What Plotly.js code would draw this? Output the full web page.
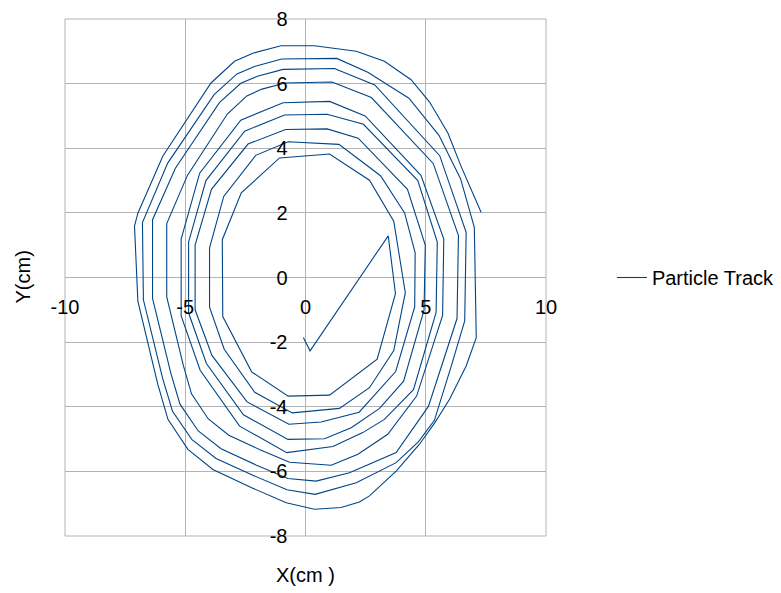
<!DOCTYPE html>
<html>
<head>
<meta charset="utf-8">
<script src="https://cdn.plot.ly/plotly-3.0.1.min.js"></script>
<style>html,body{margin:0;padding:0;background:#ffffff;}</style>
</head>
<body>
<div id="chart" style="width:781px;height:593px;"></div>
<script>
// Particle track (cm)
const turn1X = [-0.09, 0.19, 3.44, 3.74, 2.98, 1.00, -0.72, -2.24, -3.44, -3.46, -2.67, -1.08, 1.00];
const turn1Y = [-1.86, -2.27, 1.29, -0.50, -2.53, -3.64, -3.67, -2.92, -1.21, 1.17, 2.62, 3.70, 3.82];

const turn2X = [2.66, 3.67, 4.15, 3.67, 2.66, 1.41, -0.55, -2.11, -3.38, -3.99, -3.99, -3.40, -2.07, -0.72, 1.39];
const turn2Y = [3.01, 1.74, -0.47, -2.26, -3.41, -4.05, -4.19, -3.55, -2.22, -0.92, 0.92, 2.51, 3.78, 4.20, 4.12];

const turn3X = [3.12, 4.12, 4.56, 4.54, 3.75, 2.23, 0.65, -0.69, -2.43, -3.89, -4.59, -4.59, -3.91, -2.39, -0.83, 0.90];
const turn3Y = [3.15, 2.00, 0.76, -0.91, -2.91, -4.17, -4.47, -4.54, -3.85, -2.41, -1.00, 1.00, 2.73, 4.13, 4.58, 4.60];

const turn4X = [2.19, 4.24, 4.98, 4.93, 4.08, 3.08, 1.90, 0.79, -0.73, -2.58, -4.12, -4.86, -4.86, -4.14, -2.53, -0.87, 0.90];
const turn4Y = [4.31, 2.73, 1.00, -1.00, -3.21, -4.05, -4.65, -4.99, -5.01, -4.25, -2.66, -1.10, 1.10, 3.00, 4.53, 5.03, 5.05];

const turn5X = [2.41, 4.67, 5.48, 5.43, 4.49, 3.28, 2.38, 1.14, -0.78, -2.74, -4.38, -5.17, -5.17, -4.40, -2.69, -0.93, 1.00];
const turn5Y = [4.74, 3.00, 1.10, -1.08, -3.47, -4.39, -4.80, -5.23, -5.42, -4.60, -2.87, -1.19, 1.19, 3.23, 4.87, 5.41, 5.45];

const turn6X = [2.48, 4.80, 5.75, 5.70, 4.62, 3.42, 2.18, 1.07, -0.66, -1.87, -3.19, -4.05, -4.74, -5.08, -5.77, -5.77, -4.91, -3.25, -2.44, -1.81, -0.84, 1.10];
const turn6Y = [5.00, 3.16, 1.19, -1.17, -3.67, -4.85, -5.47, -5.81, -5.72, -5.34, -4.88, -4.37, -3.60, -2.72, -0.60, 1.67, 3.16, 5.06, 5.62, 5.83, 6.02, 6.05];

const turn7X = [2.74, 5.31, 6.36, 6.30, 5.11, 3.77, 1.83, 0.44, -0.73, -2.06, -3.51, -4.46, -5.22, -5.60, -6.36, -6.36, -5.41, -3.58, -2.69, -2.00, -0.93, 1.20];
const turn7Y = [5.57, 3.53, 1.30, -1.27, -3.99, -5.42, -6.04, -6.30, -6.22, -5.80, -5.30, -4.75, -3.92, -2.96, -0.65, 1.79, 3.38, 5.41, 6.01, 6.23, 6.44, 6.47];

const turn8X = [2.88, 5.58, 6.68, 6.62, 6.06, 5.36, 4.70, 3.77, 2.11, 0.40, -0.77, -2.19, -3.72, -4.73, -5.53, -5.94, -6.74, -6.78, -5.73, -3.80, -2.85, -2.12, -0.99, 1.30];
const turn8Y = [5.96, 3.77, 1.40, -1.34, -2.74, -4.42, -5.08, -5.73, -6.35, -6.71, -6.57, -6.12, -5.60, -5.01, -4.14, -3.12, -0.69, 1.70, 3.54, 5.66, 6.30, 6.53, 6.76, 6.78];

const turn9X = [2.59, 4.30, 5.55, 6.45, 7.02, 7.10, 6.68, 5.99, 5.38, 4.74, 3.77, 2.66, 2.24, 1.48, 0.37, -0.80, -2.26, -3.85, -4.89, -5.72, -6.14, -6.97, -7.11, -6.97, -5.93, -3.93, -2.95, -2.19, -1.02, 0.37];
const turn9Y = [6.35, 5.55, 4.40, 3.05, 1.55, -1.86, -2.74, -3.77, -4.49, -5.16, -5.99, -6.76, -6.95, -7.12, -7.17, -6.97, -6.50, -5.94, -5.32, -4.39, -3.31, -0.73, 1.59, 1.99, 3.76, 6.02, 6.69, 6.94, 7.17, 7.17];

const finalX = [2.11, 3.28, 4.39, 5.16, 5.92, 6.47, 7.30];
const finalY = [7.00, 6.69, 6.12, 5.43, 4.47, 3.44, 2.02];

const xTicks = [-10, -5, 0, 5, 10];
const yTicks = [-8, -6, -4, -2, 0, 2, 4, 6, 8];
const seriesName = 'Particle Track';
const xTitle = 'X(cm )';
const yTitle = 'Y(cm)';

const trackX = [].concat(turn1X, turn2X, turn3X, turn4X, turn5X, turn6X, turn7X, turn8X, turn9X, finalX);
const trackY = [].concat(turn1Y, turn2Y, turn3Y, turn4Y, turn5Y, turn6Y, turn7Y, turn8Y, turn9Y, finalY);

const FONT = '"Liberation Sans", Arial, sans-serif';
const GRID = '#b3b3b3';

const data = [{
  type: 'scatter',
  mode: 'lines',
  name: seriesName,
  x: trackX,
  y: trackY,
  line: {color: '#004586', width: 1.1},
  showlegend: true
}];

const layout = {
  width: 781,
  height: 593,
  margin: {l: 65, r: 235, t: 19, b: 57, pad: 0, autoexpand: false},
  paper_bgcolor: '#ffffff',
  plot_bgcolor: '#ffffff',
  font: {family: FONT, size: 20, color: '#000000'},
  xaxis: {
    range: [-10, 10],
    tickmode: 'array',
    tickvals: xTicks,
    ticktext: xTicks.map(String),
    anchor: 'free',
    position: 0.5,
    showgrid: true,
    gridcolor: GRID,
    gridwidth: 1,
    zeroline: false,
    showline: false,
    ticks: 'outside',
    ticklen: 11,
    tickcolor: 'rgba(0,0,0,0)',
    tickfont: {family: FONT, size: 20, color: '#000000'},
    fixedrange: true,
    automargin: false
  },
  yaxis: {
    range: [-8, 8],
    tickmode: 'array',
    tickvals: yTicks,
    ticktext: yTicks.map(String),
    anchor: 'free',
    position: 0.5,
    showgrid: true,
    gridcolor: GRID,
    gridwidth: 1,
    zeroline: false,
    showline: false,
    ticks: 'outside',
    ticklen: 14,
    tickcolor: 'rgba(0,0,0,0)',
    tickfont: {family: FONT, size: 20, color: '#000000'},
    fixedrange: true,
    automargin: false
  },
  shapes: [{
    type: 'rect', xref: 'paper', yref: 'paper', x0: 0, x1: 1, y0: 0, y1: 1,
    line: {color: GRID, width: 1}, fillcolor: 'rgba(0,0,0,0)', layer: 'below'
  }],
  legend: {
    x: 1.137, y: 0.5, xanchor: 'left', yanchor: 'middle',
    font: {family: FONT, size: 20, color: '#000000'},
    bgcolor: 'rgba(0,0,0,0)', borderwidth: 0
  },
  annotations: [
    {text: xTitle, xref: 'paper', yref: 'paper', x: (305 - 65) / 481, y: (536 - 575) / 517,
     xanchor: 'center', yanchor: 'middle', showarrow: false,
     font: {family: FONT, size: 20, color: '#000000'}},
    {text: yTitle, xref: 'paper', yref: 'paper', x: (22 - 65) / 481, y: 0.5,
     xanchor: 'center', yanchor: 'middle', textangle: -90, showarrow: false,
     font: {family: FONT, size: 20, color: '#000000'}}
  ]
};

Plotly.newPlot('chart', data, layout, {staticPlot: true, displayModeBar: false});
</script>
</body>
</html>
